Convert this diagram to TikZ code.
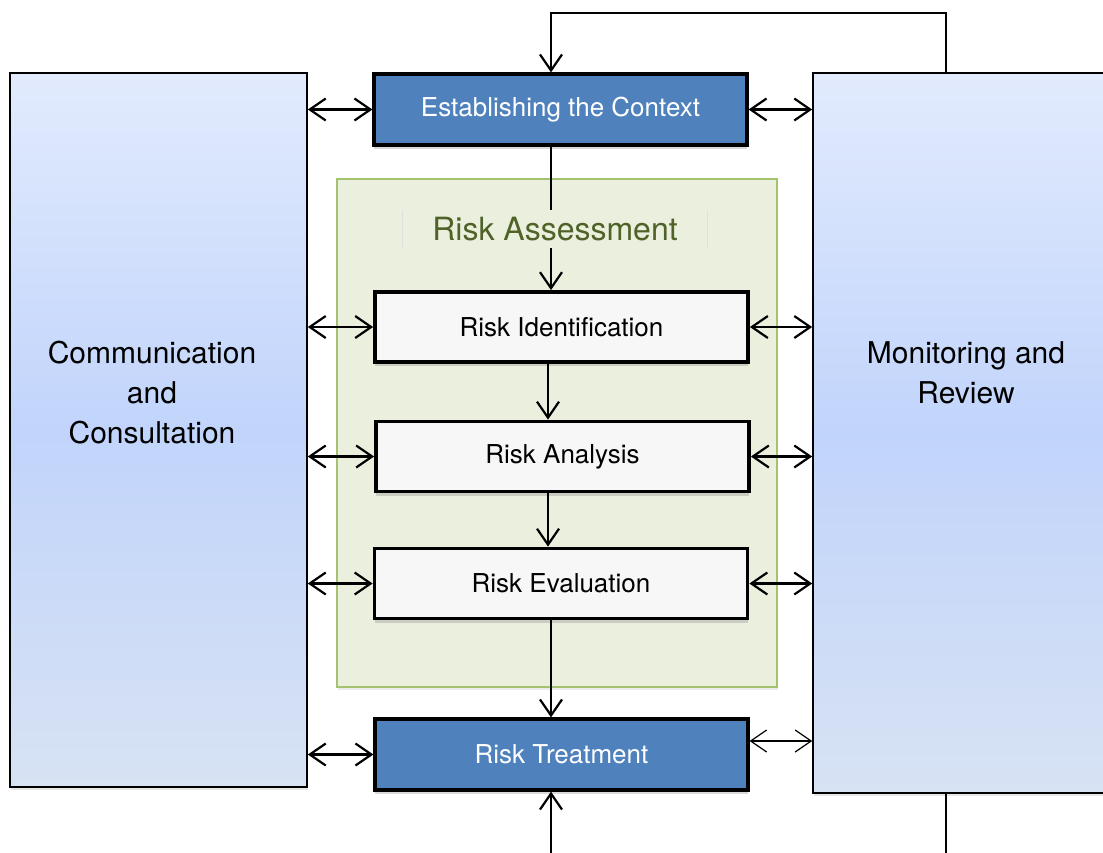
\documentclass[tikz,border=0pt]{standalone}
\usepackage{fontspec}
\setmainfont{TeX Gyre Heros}
\usetikzlibrary{arrows.meta,positioning,shadows,calc}

\definecolor{stepblue}{HTML}{4F81BD}
\definecolor{assessbg}{HTML}{EAEFDE}
\definecolor{assessline}{HTML}{A5C26E}
\definecolor{assesstext}{HTML}{4F6228}
\definecolor{sidetop}{HTML}{E2EBFD}
\definecolor{sidemid}{HTML}{C1D4FB}
\definecolor{sidebot}{HTML}{D7E2F3}

\begin{document}
\begin{tikzpicture}[
  x=0.5pt, y=-0.5pt,
  >={Straight Barb[length=8pt,width=11pt]},
  link/.style={line width=1.1pt},
  sidebox/.style={draw, line width=0.8pt, top color=sidetop, bottom color=sidebot,
    middle color=sidemid, minimum width=148.5pt,
    drop shadow={opacity=0.2, shadow xshift=0.5pt, shadow yshift=-1.5pt}},
  sidetext/.style={font=\fontsize{15}{20}\selectfont, align=center},
  bluebox/.style={draw, line width=1.6pt, fill=stepblue, text=white,
    minimum width=186.5pt, minimum height=35.5pt, font=\fontsize{13}{15}\selectfont,
    drop shadow={opacity=0.3, shadow xshift=0pt, shadow yshift=-2pt}},
  whitebox/.style={draw, line width=1.9pt, fill=white!97!black,
    minimum width=186.5pt, minimum height=35pt, font=\fontsize{13}{15}\selectfont,
    drop shadow={opacity=0.3, shadow xshift=0pt, shadow yshift=-2pt}}
]

\useasboundingbox (0,0) rectangle (1103,852);
\clip (0,0) rectangle (1103,852);

% Side boxes
\node[sidebox, minimum height=357pt] (comm) at (158.5,430) {};
\node[sidetext] (commtext) at (152,393) {Communication\\and\\Consultation};
\node[sidebox, minimum height=360pt] (monitor) at (961.5,433) {};
\node[sidetext] (montext) at (966,373) {Monitoring and\\Review};

% Risk assessment frame
\node[draw=assessline, line width=0.8pt, fill=assessbg, minimum width=220pt, minimum height=254pt,
  drop shadow={opacity=0.15, shadow xshift=0.5pt, shadow yshift=-1.5pt}] (assess) at (557,433) {};

% Process steps
\node[bluebox] (ctx) at (560.5,109.5) {Establishing the Context};
\node[whitebox] (ident) at (561.5,327) {Risk Identification};
\node[whitebox] (analysis) at (562.5,456.5) {Risk Analysis};
\node[whitebox] (evaluation) at (561,583.5) {Risk Evaluation};
\node[bluebox] (treat) at (561.5,754.5) {Risk Treatment};

% Flow down the steps
\draw[->, link] ([xshift=-4.75pt]ctx.south) -- ([xshift=-5.25pt]ident.north);
\draw[->, link] ([xshift=-6.75pt]ident.south) -- ([xshift=-7.25pt]analysis.north);
\draw[->, link] ([xshift=-7.25pt]analysis.south) -- ([xshift=-6.5pt]evaluation.north);
\draw[->, link] ([xshift=-5pt]evaluation.south) -- ([xshift=-5.25pt]treat.north);

% Title over the flow line
\node[fill=assessbg, text=assesstext, font=\fontsize{16}{19}\selectfont,
  minimum width=152pt, minimum height=18.5pt] (title) at (555,229) {Risk Assessment};
\draw[black!12, line width=0.6pt] (title.north west) -- (title.south west);
\draw[black!12, line width=0.6pt] (title.north east) -- (title.south east);

% Communication links
\draw[<->, link] (comm.east |- ctx.west) -- (ctx.west);
\draw[<->, link] (comm.east |- ident.west) -- (ident.west);
\draw[<->, link] (comm.east |- analysis.west) -- (analysis.west);
\draw[<->, link] (comm.east |- evaluation.west) -- (evaluation.west);
\draw[<->, link] (comm.east |- treat.west) -- (treat.west);

% Monitoring links
\draw[<->, link] (ctx.east) -- (ctx.east -| monitor.west);
\draw[<->, link] (ident.east) -- (ident.east -| monitor.west);
\draw[<->, link] (analysis.east) -- (analysis.east -| monitor.west);
\draw[<->, link] (evaluation.east) -- (evaluation.east -| monitor.west);
\coordinate (trr) at ($(treat.east)+(0,-13.5)$);
\draw[<->, line width=0.6pt] (trr) -- (trr -| monitor.west);

% Feedback loops
\coordinate (fbtop) at (946,13);
\coordinate (fbbot) at (946,900);
\draw[->, link] (monitor.north west -| fbtop) -- (fbtop) -| ([xshift=-4.75pt]ctx.north);
\draw[->, link] (monitor.south west -| fbbot) -- (fbbot) -| ([xshift=-5.25pt]treat.south);

\end{tikzpicture}
\end{document}
